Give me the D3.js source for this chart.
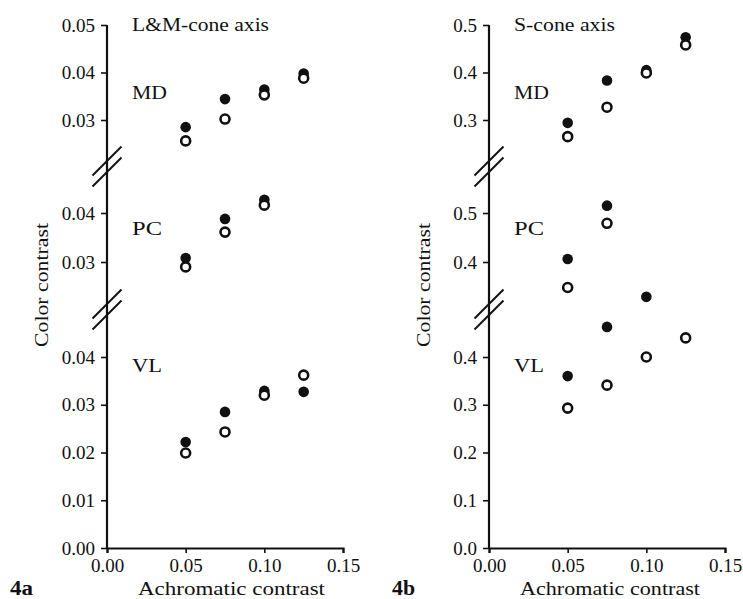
<!DOCTYPE html>
<html>
<head>
<meta charset="utf-8">
<script src="https://cdn.jsdelivr.net/npm/d3@7"></script>
<style>
  html, body { margin: 0; padding: 0; background: #fff; }
  svg { display: block; }
  text { font-family: "Liberation Serif", "Times New Roman", serif; fill: #111; }
</style>
</head>
<body>
<svg id="chart" width="743" height="599"></svg>
<script>
// achromatic contrast levels (x)
const xLevels = [0.05, 0.075, 0.10, 0.125];
const xTicks = [0, 0.05, 0.10, 0.15];

// 4a : L&M-cone axis
const lmTicksMD = [0.03, 0.04, 0.05];
const lmTicksPC = [0.03, 0.04];
const lmTicksVL = [0, 0.01, 0.02, 0.03, 0.04];
const lmMDFilled = [0.0285, 0.0344, 0.0364, 0.0398];
const lmMDOpen = [0.0256, 0.0302, 0.0353, 0.0388];
const lmPCFilled = [0.0308, 0.0388, 0.0427, null];
const lmPCOpen = [0.0290, 0.0361, 0.0416, null];
const lmVLFilled = [0.0222, 0.0285, 0.0329, 0.0327];
const lmVLOpen = [0.0199, 0.0243, 0.0320, 0.0362];

// 4b : S-cone axis
const sTicksMD = [0.3, 0.4, 0.5];
const sTicksPC = [0.4, 0.5];
const sTicksVL = [0, 0.1, 0.2, 0.3, 0.4];
const sMDFilled = [0.294, 0.383, 0.405, 0.474];
const sMDOpen = [0.265, 0.327, 0.399, 0.458];
const sPCFilled = [0.406, 0.515, null, null];
const sPCOpen = [0.348, 0.479, null, null];
const sVLFilled = [0.360, 0.463, 0.526, null];
const sVLOpen = [0.293, 0.341, 0.400, 0.440];

const groupNames = ['MD', 'PC', 'VL'];
const groupLens = [35, 30, 30];

const svg = d3.select('#chart');

// pixel ranges of the three stacked segments (top, middle, bottom)
const segRanges = [[120, 25], [262, 213], [548, 357]];
const labelBase = [99, 235, 372];

function drawPanel(opt) {
  const g = svg.append('g');
  const x = d3.scaleLinear().domain([0, 0.15]).range([opt.x0, opt.x0 + 236]);

  const scales = opt.ticks.map((t, i) => d3.scaleLinear()
    .domain([t[0], t[t.length - 1]])
    .range(segRanges[i]));

  // y axis segments (ticks only), one continuous line
  scales.forEach((y, i) => {
    const ax = g.append('g')
      .attr('transform', `translate(${opt.x0},0)`)
      .call(d3.axisLeft(y).tickValues(opt.ticks[i]).tickSize(6).tickPadding(6)
        .tickFormat(d3.format(opt.fmt)));
    ax.select('.domain').remove();
    ax.selectAll('line').attr('stroke', '#111').attr('stroke-width', 1.6);
    ax.selectAll('text').attr('font-size', 19).attr('fill', '#111')
      .style('font-family', '"Liberation Serif", serif');
  });
  g.append('line')
    .attr('x1', opt.x0).attr('x2', opt.x0)
    .attr('y1', segRanges[0][1]).attr('y2', segRanges[2][0] + 1)
    .attr('stroke', '#111').attr('stroke-width', 2.2);

  // axis breaks
  const breaks = [
    (segRanges[0][0] + segRanges[1][1]) / 2,
    (segRanges[1][0] + segRanges[2][1]) / 2
  ];
  breaks.forEach(c => {
    [-5.5, 5.5].forEach(off => {
      g.append('line')
        .attr('x1', opt.x0 - 14.5).attr('y1', c + off + 14.5)
        .attr('x2', opt.x0 + 14.5).attr('y2', c + off - 14.5)
        .attr('stroke', '#111').attr('stroke-width', 2);
    });
  });

  // x axis
  const xa = g.append('g')
    .attr('transform', `translate(0,${segRanges[2][0]})`)
    .call(d3.axisBottom(x).tickValues(xTicks).tickSize(5).tickPadding(6)
      .tickFormat(d3.format('.2f')));
  xa.select('.domain').attr('stroke', '#111').attr('stroke-width', 2.2);
  xa.selectAll('line').attr('stroke', '#111').attr('stroke-width', 1.6);
  xa.selectAll('text').attr('font-size', 19).attr('fill', '#111')
    .style('font-family', '"Liberation Serif", serif');

  // points
  opt.series.forEach((s, i) => {
    const y = scales[i];
    const filled = xLevels.map((v, j) => ({ x: v, y: s.filled[j] })).filter(d => d.y != null);
    const open = xLevels.map((v, j) => ({ x: v, y: s.open[j] })).filter(d => d.y != null);
    g.selectAll(null).data(filled).enter().append('circle')
      .attr('cx', d => x(d.x)).attr('cy', d => y(d.y))
      .attr('r', 5.3).attr('fill', '#111');
    g.selectAll(null).data(open).enter().append('circle')
      .attr('cx', d => x(d.x)).attr('cy', d => y(d.y))
      .attr('r', 4.5).attr('fill', '#fff')
      .attr('stroke', '#111').attr('stroke-width', 2.6);

    g.append('text')
      .attr('x', opt.x0 + 25).attr('y', labelBase[i])
      .attr('font-size', 19)
      .attr('textLength', groupLens[i]).attr('lengthAdjust', 'spacingAndGlyphs')
      .text(groupNames[i]);
  });

  // titles
  g.append('text')
    .attr('x', opt.x0 + 25).attr('y', 31)
    .attr('font-size', 19)
    .attr('textLength', opt.titleLen).attr('lengthAdjust', 'spacingAndGlyphs')
    .text(opt.title);

  g.append('text')
    .attr('transform', `translate(${opt.x0 - 59},285) rotate(-90)`)
    .attr('text-anchor', 'middle')
    .attr('font-size', 19)
    .attr('textLength', 124).attr('lengthAdjust', 'spacingAndGlyphs')
    .text('Color contrast');

  g.append('text')
    .attr('x', opt.x0 + 31).attr('y', 595)
    .attr('font-size', 19)
    .attr('textLength', opt.xLabLen).attr('lengthAdjust', 'spacingAndGlyphs')
    .text('Achromatic contrast');

  g.append('text')
    .attr('x', opt.x0 - 97).attr('y', 595)
    .attr('font-size', 20).attr('font-weight', 'bold')
    .attr('textLength', 23).attr('lengthAdjust', 'spacingAndGlyphs')
    .text(opt.tag);
}

drawPanel({
  x0: 107, fmt: '.2f', title: 'L&M-cone axis', titleLen: 137, xLabLen: 187, tag: '4a',
  ticks: [lmTicksMD, lmTicksPC, lmTicksVL],
  series: [
    { filled: lmMDFilled, open: lmMDOpen },
    { filled: lmPCFilled, open: lmPCOpen },
    { filled: lmVLFilled, open: lmVLOpen }
  ]
});

drawPanel({
  x0: 489, fmt: '.1f', title: 'S-cone axis', titleLen: 101, xLabLen: 180, tag: '4b',
  ticks: [sTicksMD, sTicksPC, sTicksVL],
  series: [
    { filled: sMDFilled, open: sMDOpen },
    { filled: sPCFilled, open: sPCOpen },
    { filled: sVLFilled, open: sVLOpen }
  ]
});
</script>
</body>
</html>
